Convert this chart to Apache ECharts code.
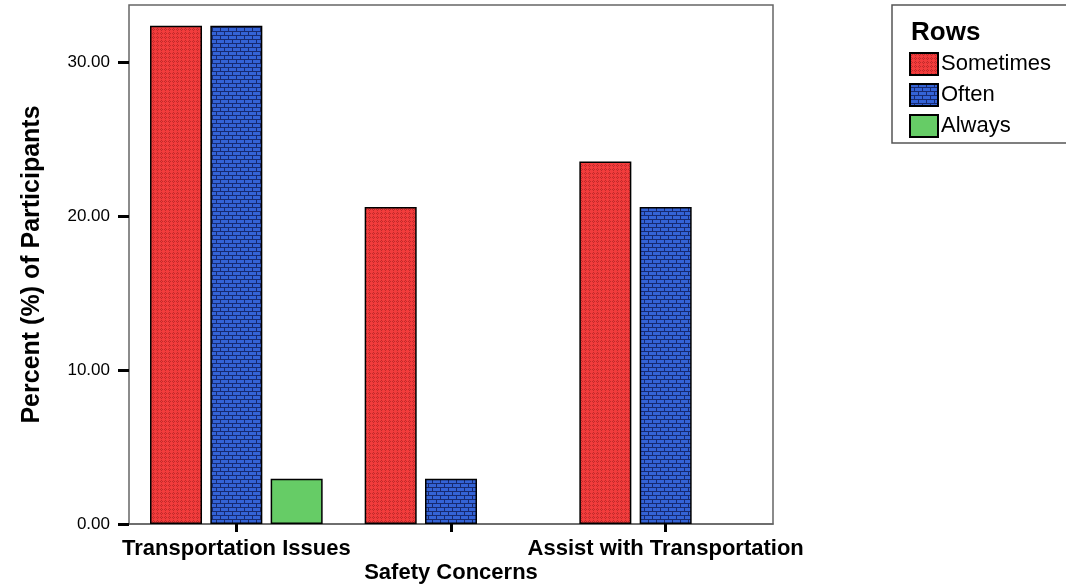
<!DOCTYPE html>
<html><head><meta charset="utf-8">
<script src="https://cdn.jsdelivr.net/npm/echarts@6/dist/echarts.min.js"></script>
<style>html,body{margin:0;padding:0;background:#fff}#c{width:1066px;height:586px}</style>
</head><body><div id="c"></div>
<script>
var categories = ['Transportation Issues', 'Safety Concerns', 'Assist with Transportation'];
var sometimes = [32.35, 20.59, 23.53];
var often = [32.35, 2.94, 20.59];
var always = [2.94, null, null];
var yTicks = [0, 10, 20, 30];

function tile(w, h, draw) {
  var c = document.createElement('canvas'); c.width = w; c.height = h;
  draw(c.getContext('2d')); return c;
}
var redTile = tile(4, 4, function (g) {
  g.fillStyle = '#f23c3c'; g.fillRect(0, 0, 4, 4);
  g.fillStyle = '#c02a2a';
  [[1,0],[0,1],[2,1],[1,2]].forEach(function (p) { g.fillRect(p[0], p[1], 1, 1); });
});
var blueTile = tile(8, 8, function (g) {
  g.fillStyle = '#3463d6'; g.fillRect(0, 0, 8, 8);
  g.fillStyle = '#172a70';
  g.fillRect(0, 3, 8, 1); g.fillRect(0, 7, 8, 1);
  g.fillRect(0, 0, 1, 3); g.fillRect(4, 4, 1, 3);
});

var chart = echarts.init(document.getElementById('c'), null, {renderer: 'canvas'});
var font = 'Liberation Sans, Arial, sans-serif';
chart.setOption({
  animation: false,
  textStyle: {fontFamily: font},
  grid: {left: 129, right: 293, top: 5, bottom: 62, show: true, borderColor: '#666', borderWidth: 1.5, containLabel: false},
  title: {text: 'Rows', left: 906, top: 15, textStyle: {fontFamily: font, fontSize: 26, fontWeight: 'bold', color: '#000'}},
  graphic: [{type: 'rect', shape: {x: 892, y: 5, width: 200, height: 138}, style: {fill: 'none', stroke: '#555', lineWidth: 1.5}, z: 10}],
  legend: {
    orient: 'vertical', left: 904, top: 47, itemWidth: 28, itemHeight: 22, itemGap: 7, icon: 'rect',
    textStyle: {fontFamily: font, fontSize: 22, color: '#000', padding: [0, 0, 0, -2]},
    data: ['Sometimes', 'Often', 'Always']
  },
  xAxis: {
    type: 'category', data: categories,
    axisLine: {show: true, lineStyle: {color: '#666', width: 1.5}},
    axisTick: {show: true, alignWithLabel: true, length: 8, lineStyle: {color: '#000', width: 3}},
    axisLabel: {
      interval: 0, margin: 14, color: '#000', fontFamily: font, fontSize: 22, fontWeight: 'bold',
      formatter: function (v, i) { return i === 1 ? '{low|' + v + '}' : v; },
      rich: {low: {padding: [24, 0, 0, 0], fontFamily: font, fontSize: 22, fontWeight: 'bold', color: '#000'}}
    }
  },
  yAxis: {
    type: 'value', min: 0, max: 33.7, interval: 10,
    name: 'Percent (%) of Participants', nameLocation: 'middle', nameGap: 84,
    nameTextStyle: {fontFamily: font, fontSize: 25, fontWeight: 'bold', color: '#000'},
    axisLine: {show: false},
    splitLine: {show: false},
    axisTick: {show: true, length: 11, lineStyle: {color: '#000', width: 3}, customValues: yTicks},
    axisLabel: {color: '#000', fontFamily: font, fontSize: 17, margin: 19, customValues: yTicks,
      formatter: function (v) { return v.toFixed(2); }}
  },
  series: [
    {name: 'Sometimes', type: 'bar', data: sometimes, barWidth: 52, barGap: '16%', barCategoryGap: '20%',
      itemStyle: {color: {image: redTile, repeat: 'repeat'}, borderColor: '#000', borderWidth: 1.5}},
    {name: 'Often', type: 'bar', data: often, barWidth: 52, barGap: '16%',
      itemStyle: {color: {image: blueTile, repeat: 'repeat'}, borderColor: '#000', borderWidth: 1.5}},
    {name: 'Always', type: 'bar', data: always, barWidth: 52, barGap: '16%',
      itemStyle: {color: '#66cc66', borderColor: '#000', borderWidth: 1.5}}
  ]
});
</script></body></html>
